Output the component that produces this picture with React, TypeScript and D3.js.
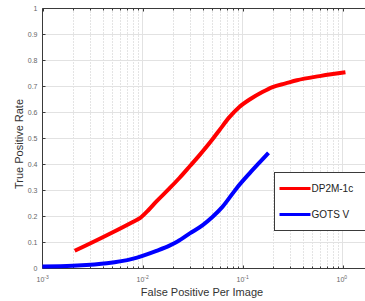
import React, { useRef, useEffect } from "react";
import * as d3 from "d3";

// DP2M-1c curve: [false positives per image, true positive rate]
const redFppi = [0.0021, 0.0044, 0.0079, 0.0095, 0.0115, 0.0138, 0.0186, 0.0234, 0.03, 0.037, 0.049, 0.059, 0.074, 0.093, 0.12, 0.158, 0.2, 0.27, 0.35, 0.59, 0.8, 1.07];
const redTpr = [0.068, 0.128, 0.178, 0.195, 0.225, 0.258, 0.308, 0.348, 0.395, 0.435, 0.492, 0.533, 0.582, 0.621, 0.652, 0.679, 0.698, 0.712, 0.724, 0.74, 0.748, 0.755];

// GOTS V curve
const blueFppi = [0.001, 0.002, 0.0044, 0.0079, 0.0138, 0.0186, 0.0224, 0.03, 0.04, 0.05, 0.063, 0.087, 0.117, 0.15, 0.182];
const blueTpr = [0.008, 0.011, 0.02, 0.037, 0.068, 0.088, 0.104, 0.136, 0.167, 0.198, 0.237, 0.308, 0.365, 0.41, 0.445];

const yTicks = [0, 0.1, 0.2, 0.3, 0.4, 0.5, 0.6, 0.7, 0.8, 0.9, 1];
const xDecades = [-3, -2, -1, 0];
const seriesNames = ["DP2M-1c", "GOTS V"];
const seriesColors = ["#ff0000", "#0000ff"];

const App = () => {
  const svgRef = useRef(null);

  useEffect(() => {
    const svg = d3.select(svgRef.current);
    svg.selectAll("*").remove();

    const left = 42.5;
    const top = 8.5;
    const bottom = 268.5;
    const right = 380; // box runs off the right edge

    const x = d3
      .scaleLog()
      .domain([1e-3, 1])
      .range([left, left + 300]);
    const y = d3.scaleLinear().domain([0, 1]).range([bottom, top]);

    const fontFam = "'Liberation Sans', Arial, sans-serif";

    // minor ticks 2..9 per decade
    const minors = [];
    xDecades.forEach((d) => {
      for (let k = 2; k <= 9; k++) {
        const v = k * Math.pow(10, d);
        if (x(v) < right) minors.push(v);
      }
    });

    // 网格
    svg
      .append("g")
      .selectAll("line")
      .data(minors)
      .join("line")
      .attr("x1", (d) => Math.round(x(d)) + 0.5)
      .attr("x2", (d) => Math.round(x(d)) + 0.5)
      .attr("y1", top)
      .attr("y2", bottom)
      .attr("stroke", "#c8c8c8")
      .attr("stroke-width", 1)
      .attr("stroke-dasharray", "1,2");

    svg
      .append("g")
      .selectAll("line")
      .data(xDecades.slice(1))
      .join("line")
      .attr("x1", (d) => x(Math.pow(10, d)))
      .attr("x2", (d) => x(Math.pow(10, d)))
      .attr("y1", top)
      .attr("y2", bottom)
      .attr("stroke", "#e2e2e2")
      .attr("stroke-width", 1);

    svg
      .append("g")
      .selectAll("line")
      .data(yTicks.slice(1, -1))
      .join("line")
      .attr("x1", left)
      .attr("x2", right)
      .attr("y1", (d) => y(d))
      .attr("y2", (d) => y(d))
      .attr("stroke", "#e2e2e2")
      .attr("stroke-width", 1);

    // box
    const axisColor = "#3a3a3a";
    svg.append("line").attr("x1", left).attr("x2", right).attr("y1", top).attr("y2", top).attr("stroke", axisColor);
    svg.append("line").attr("x1", left).attr("x2", right).attr("y1", bottom).attr("y2", bottom).attr("stroke", axisColor);
    svg.append("line").attr("x1", left).attr("x2", left).attr("y1", top).attr("y2", bottom).attr("stroke", axisColor);

    // y ticks
    svg
      .append("g")
      .selectAll("line")
      .data(yTicks)
      .join("line")
      .attr("x1", left)
      .attr("x2", left + 3)
      .attr("y1", (d) => y(d))
      .attr("y2", (d) => y(d))
      .attr("stroke", axisColor);

    svg
      .append("g")
      .selectAll("text")
      .data(yTicks)
      .join("text")
      .attr("x", left - 5)
      .attr("y", (d) => y(d) + 2.5)
      .attr("text-anchor", "end")
      .attr("fill", "#666")
      .style("font-family", fontFam)
      .style("font-size", "7px")
      .text((d) => String(d));

    // x ticks top & bottom
    const xTickData = [
      ...xDecades.map((d) => ({ v: Math.pow(10, d), len: 3 })),
      ...minors.map((v) => ({ v, len: 2 })),
    ];
    svg
      .append("g")
      .selectAll("line")
      .data(xTickData)
      .join("line")
      .attr("x1", (d) => Math.round(x(d.v)) + 0.5)
      .attr("x2", (d) => Math.round(x(d.v)) + 0.5)
      .attr("y1", bottom)
      .attr("y2", (d) => bottom - d.len)
      .attr("stroke", axisColor);
    svg
      .append("g")
      .selectAll("line")
      .data(xTickData)
      .join("line")
      .attr("x1", (d) => Math.round(x(d.v)) + 0.5)
      .attr("x2", (d) => Math.round(x(d.v)) + 0.5)
      .attr("y1", top)
      .attr("y2", (d) => top + d.len)
      .attr("stroke", axisColor);

    const xl = svg
      .append("g")
      .selectAll("text")
      .data(xDecades)
      .join("text")
      .attr("x", (d) => x(Math.pow(10, d)) - 6)
      .attr("y", 282)
      .attr("fill", "#666")
      .style("font-family", fontFam)
      .style("font-size", "7px");
    xl.append("tspan").text("10");
    xl.append("tspan")
      .attr("dy", -3)
      .style("font-size", "5px")
      .text((d) => (d === 0 ? "0" : "-" + Math.abs(d)));

    // axis titles
    svg
      .append("text")
      .attr("x", 202)
      .attr("y", 296)
      .attr("text-anchor", "middle")
      .attr("fill", "#333")
      .style("font-family", fontFam)
      .style("font-size", "11px")
      .text("False Positive Per Image");

    svg
      .append("text")
      .attr("transform", "translate(23,144) rotate(-90)")
      .attr("text-anchor", "middle")
      .attr("fill", "#333")
      .style("font-family", fontFam)
      .style("font-size", "11px")
      .text("True Positive Rate");

    // curves
    const line = d3
      .line()
      .x((d) => x(d[0]))
      .y((d) => y(d[1]))
      .curve(d3.curveMonotoneX);

    const series = [
      d3.zip(redFppi, redTpr),
      d3.zip(blueFppi, blueTpr),
    ];
    series.forEach((s, i) => {
      svg
        .append("path")
        .datum(s)
        .attr("fill", "none")
        .attr("stroke", seriesColors[i])
        .attr("stroke-width", 4)
        .attr("stroke-linejoin", "round")
        .attr("d", line);
    });

    // legend
    const legend = svg.append("g").attr("transform", "translate(274.5,172.5)");
    legend
      .append("rect")
      .attr("width", 120)
      .attr("height", 58)
      .attr("fill", "white")
      .attr("stroke", axisColor);
    seriesNames.forEach((name, i) => {
      const ly = 16 + i * 26;
      legend
        .append("line")
        .attr("x1", 5)
        .attr("x2", 36)
        .attr("y1", ly)
        .attr("y2", ly)
        .attr("stroke", seriesColors[i])
        .attr("stroke-width", 3);
      legend
        .append("text")
        .attr("x", 37)
        .attr("y", ly + 3.5)
        .attr("fill", "#222")
        .style("font-family", fontFam)
        .style("font-size", "10px")
        .text(name);
    });
  }, []);

  return (
    <svg
      ref={svgRef}
      width={365}
      height={301}
      style={{ position: "absolute", left: 0, top: 0, background: "white" }}
    ></svg>
  );
};

export default App;
